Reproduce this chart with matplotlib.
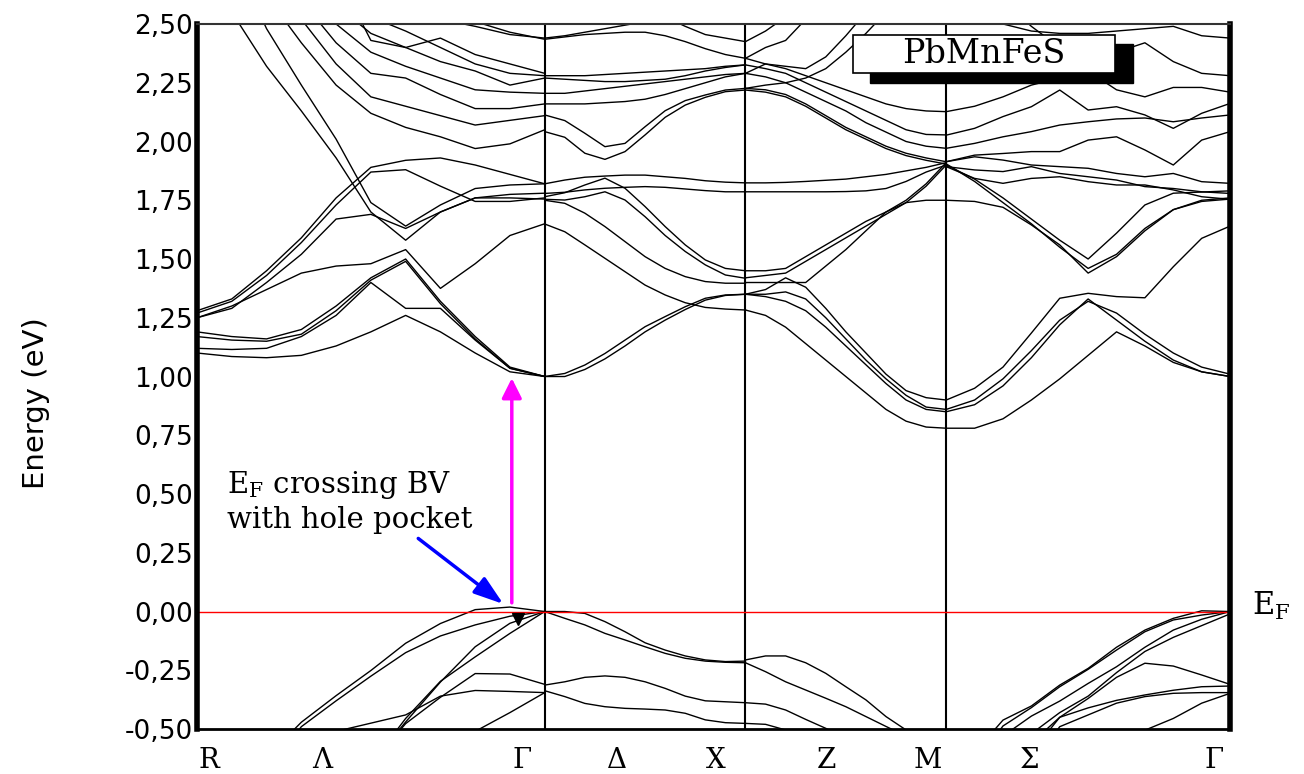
import numpy as np
import matplotlib.pyplot as plt
from matplotlib import font_manager
from matplotlib.patches import Rectangle

# path R - Gamma - X - M - Gamma, lengths in units of 2pi/a
k_R, k_G, k_X, k_M, k_G2 = 0.0, 0.866, 1.366, 1.866, 2.573
k_RG = np.linspace(k_R, k_G, 11)
k_GX = np.linspace(k_G, k_X, 11)
k_XM = np.linspace(k_X, k_M, 11)
k_MG = np.linspace(k_M, k_G2, 11)

# energies (eV) of the bands on each segment
cond_RG = [
    [1.10, 1.085, 1.08, 1.09, 1.13, 1.19, 1.26, 1.19, 1.10, 1.02, 1.00],
    [1.12, 1.115, 1.12, 1.17, 1.26, 1.40, 1.29, 1.29, 1.155, 1.035, 1.00],
    [1.19, 1.17, 1.16, 1.20, 1.30, 1.42, 1.50, 1.32, 1.17, 1.04, 1.00],
    [1.17, 1.155, 1.15, 1.18, 1.28, 1.41, 1.49, 1.31, 1.16, 1.035, 1.00],
    [1.25, 1.30, 1.37, 1.44, 1.47, 1.48, 1.54, 1.375, 1.48, 1.60, 1.65],
    [1.28, 1.33, 1.45, 1.59, 1.76, 1.89, 1.92, 1.93, 1.90, 1.86, 1.82],
    [1.27, 1.32, 1.43, 1.57, 1.73, 1.87, 1.88, 1.81, 1.745, 1.745, 1.76],
    [1.25, 1.29, 1.40, 1.52, 1.67, 1.69, 1.63, 1.70, 1.76, 1.775, 1.78],
    [2.90, 2.55, 2.32, 2.13, 1.93, 1.70, 1.58, 1.70, 1.76, 1.76, 1.755],
    [3.10, 2.80, 2.48, 2.24, 2.01, 1.74, 1.64, 1.73, 1.80, 1.815, 1.82],
    [3.50, 3.10, 2.62, 2.42, 2.24, 2.12, 2.06, 2.02, 1.97, 1.99, 2.05],
    [3.60, 3.20, 2.75, 2.52, 2.33, 2.19, 2.15, 2.11, 2.07, 2.09, 2.11],
    [3.70, 3.30, 2.85, 2.60, 2.42, 2.29, 2.27, 2.20, 2.14, 2.14, 2.16],
    [3.80, 3.40, 2.95, 2.70, 2.50, 2.38, 2.32, 2.27, 2.22, 2.21, 2.205],
    [3.90, 3.50, 3.05, 2.78, 2.58, 2.46, 2.40, 2.34, 2.30, 2.24, 2.27],
    [4.00, 3.60, 3.15, 2.86, 2.66, 2.53, 2.47, 2.40, 2.33, 2.29, 2.28],
    [4.10, 3.70, 3.20, 2.92, 2.72, 2.43, 2.40, 2.44, 2.37, 2.33, 2.29],
    [4.20, 3.80, 3.30, 3.00, 2.80, 2.66, 2.58, 2.52, 2.49, 2.455, 2.44],
    [4.30, 3.90, 3.40, 3.10, 2.90, 2.75, 2.65, 2.56, 2.51, 2.465, 2.435],
]
val_RG = [
    [-0.80, -0.72, -0.62, -0.471, -0.358, -0.251, -0.135, -0.051, 0.008, 0.019, 0.0],
    [-0.90, -0.80, -0.68, -0.49, -0.38, -0.275, -0.175, -0.104, -0.057, -0.02, 0.0],
    [-1.50, -1.30, -1.10, -0.95, -0.80, -0.65, -0.455, -0.297, -0.193, -0.093, 0.0],
    [-1.50, -1.30, -1.10, -0.95, -0.80, -0.65, -0.47, -0.30, -0.15, -0.05, 0.0],
    [-1.20, -1.10, -1.00, -0.90, -0.80, -0.65, -0.477, -0.365, -0.264, -0.266, -0.31],
    [-0.80, -0.70, -0.62, -0.56, -0.51, -0.475, -0.44, -0.36, -0.336, -0.34, -0.345],
    [-1.50, -1.40, -1.30, -1.20, -1.10, -0.90, -0.75, -0.62, -0.51, -0.43, -0.345],
]

cond_GX = [
    [1.00, 1.013, 1.049, 1.098, 1.155, 1.212, 1.255, 1.297, 1.333, 1.347, 1.35],
    [1.00, 1.00, 1.03, 1.075, 1.13, 1.19, 1.24, 1.285, 1.325, 1.345, 1.35],
    [1.649, 1.616, 1.56, 1.503, 1.446, 1.389, 1.347, 1.314, 1.294, 1.287, 1.283],
    [1.75, 1.737, 1.695, 1.638, 1.574, 1.51, 1.46, 1.425, 1.404, 1.397, 1.397],
    [1.754, 1.751, 1.765, 1.786, 1.751, 1.68, 1.60, 1.532, 1.475, 1.432, 1.418],
    [1.765, 1.782, 1.815, 1.844, 1.801, 1.723, 1.638, 1.56, 1.496, 1.46, 1.45],
    [1.779, 1.784, 1.794, 1.801, 1.805, 1.808, 1.805, 1.798, 1.791, 1.786, 1.786],
    [1.82, 1.836, 1.848, 1.853, 1.857, 1.857, 1.85, 1.843, 1.833, 1.827, 1.824],
    [2.113, 2.089, 2.035, 1.978, 1.992, 2.063, 2.131, 2.174, 2.198, 2.219, 2.226],
    [2.042, 2.018, 1.95, 1.924, 1.957, 2.028, 2.103, 2.155, 2.188, 2.212, 2.219],
    [2.16, 2.16, 2.16, 2.165, 2.17, 2.18, 2.20, 2.225, 2.25, 2.275, 2.29],
    [2.205, 2.205, 2.215, 2.225, 2.235, 2.245, 2.255, 2.265, 2.275, 2.285, 2.29],
    [2.27, 2.265, 2.26, 2.255, 2.255, 2.26, 2.265, 2.28, 2.30, 2.315, 2.326],
    [2.28, 2.28, 2.28, 2.285, 2.29, 2.295, 2.30, 2.305, 2.31, 2.32, 2.326],
    [2.435, 2.445, 2.455, 2.46, 2.465, 2.465, 2.45, 2.425, 2.395, 2.37, 2.354],
    [2.44, 2.45, 2.465, 2.48, 2.495, 2.51, 2.53, 2.56, 2.60, 2.65, 2.70],
    [3.00, 2.90, 2.80, 2.70, 2.62, 2.57, 2.53, 2.49, 2.455, 2.44, 2.425],
]
val_GX = [
    [0.0, 0.0, -0.008, -0.043, -0.086, -0.133, -0.164, -0.189, -0.206, -0.213, -0.211],
    [0.0, -0.029, -0.057, -0.093, -0.121, -0.150, -0.178, -0.199, -0.211, -0.216, -0.218],
    [-0.313, -0.299, -0.280, -0.274, -0.280, -0.299, -0.327, -0.360, -0.380, -0.384, -0.388],
    [-0.337, -0.362, -0.391, -0.405, -0.412, -0.415, -0.419, -0.433, -0.461, -0.473, -0.476],
]

cond_XM = [
    [2.354, 2.33, 2.31, 2.28, 2.25, 2.22, 2.19, 2.16, 2.14, 2.13, 2.127],
    [2.326, 2.31, 2.29, 2.25, 2.21, 2.17, 2.13, 2.09, 2.05, 2.03, 2.028],
    [2.29, 2.275, 2.25, 2.21, 2.17, 2.13, 2.08, 2.04, 2.00, 1.98, 1.971],
    [2.226, 2.22, 2.20, 2.16, 2.11, 2.06, 2.02, 1.98, 1.95, 1.93, 1.914],
    [2.219, 2.21, 2.19, 2.15, 2.10, 2.05, 2.01, 1.97, 1.94, 1.92, 1.904],
    [1.824, 1.824, 1.826, 1.83, 1.835, 1.84, 1.85, 1.86, 1.875, 1.89, 1.91],
    [1.786, 1.786, 1.786, 1.786, 1.786, 1.787, 1.79, 1.80, 1.83, 1.87, 1.90],
    [2.425, 2.47, 2.53, 2.60, 2.70, 2.80, 2.90, 3.00, 3.10, 3.20, 3.30],
    [2.354, 2.40, 2.43, 2.52, 2.62, 2.70, 2.80, 2.90, 3.00, 3.10, 3.20],
    [2.29, 2.33, 2.32, 2.31, 2.36, 2.45, 2.55, 2.65, 2.75, 2.85, 2.95],
    [2.226, 2.24, 2.25, 2.27, 2.31, 2.38, 2.46, 2.55, 2.65, 2.75, 2.85],
    [1.45, 1.45, 1.46, 1.51, 1.56, 1.61, 1.66, 1.70, 1.75, 1.82, 1.91],
    [1.42, 1.43, 1.44, 1.49, 1.54, 1.59, 1.64, 1.69, 1.74, 1.81, 1.90],
    [1.40, 1.40, 1.40, 1.40, 1.47, 1.54, 1.62, 1.70, 1.74, 1.75, 1.75],
    [1.35, 1.37, 1.42, 1.38, 1.29, 1.19, 1.10, 1.01, 0.94, 0.91, 0.90],
    [1.35, 1.35, 1.36, 1.33, 1.25, 1.16, 1.07, 0.99, 0.92, 0.87, 0.86],
    [1.35, 1.34, 1.32, 1.28, 1.21, 1.13, 1.05, 0.97, 0.90, 0.86, 0.85],
    [1.283, 1.26, 1.21, 1.14, 1.07, 1.00, 0.93, 0.86, 0.81, 0.785, 0.78],
]
val_XM = [
    [-0.206, -0.189, -0.189, -0.218, -0.263, -0.32, -0.376, -0.447, -0.504, -0.56, -0.62],
    [-0.218, -0.256, -0.299, -0.334, -0.369, -0.405, -0.447, -0.489, -0.53, -0.58, -0.63],
    [-0.388, -0.394, -0.419, -0.459, -0.497, -0.54, -0.58, -0.62, -0.66, -0.70, -0.74],
    [-0.476, -0.48, -0.504, -0.53, -0.56, -0.60, -0.64, -0.68, -0.72, -0.76, -0.80],
]

cond_MG = [
    [0.90, 0.95, 1.04, 1.185, 1.333, 1.354, 1.34, 1.335, 1.467, 1.588, 1.64],
    [0.85, 0.88, 0.96, 1.08, 1.22, 1.33, 1.24, 1.15, 1.07, 1.02, 1.00],
    [0.86, 0.90, 0.99, 1.11, 1.24, 1.32, 1.27, 1.18, 1.10, 1.04, 1.01],
    [0.78, 0.78, 0.82, 0.90, 0.99, 1.09, 1.19, 1.13, 1.06, 1.02, 1.00],
    [1.75, 1.745, 1.72, 1.645, 1.56, 1.44, 1.51, 1.62, 1.71, 1.745, 1.755],
    [1.90, 1.84, 1.76, 1.67, 1.58, 1.50, 1.61, 1.73, 1.78, 1.785, 1.79],
    [1.905, 1.83, 1.74, 1.65, 1.55, 1.46, 1.52, 1.63, 1.71, 1.75, 1.76],
    [2.027, 2.056, 2.106, 2.148, 2.219, 2.134, 2.148, 2.113, 2.056, 2.12, 2.162],
    [1.971, 1.992, 2.02, 2.042, 2.07, 2.084, 2.096, 2.10, 2.084, 2.10, 2.113],
    [1.914, 1.942, 1.949, 1.957, 1.957, 2.006, 2.02, 1.964, 1.90, 2.006, 2.042],
    [1.914, 1.935, 1.921, 1.90, 1.893, 1.886, 1.864, 1.85, 1.864, 1.829, 1.822],
    [1.893, 1.879, 1.872, 1.893, 1.864, 1.85, 1.836, 1.808, 1.80, 1.786, 1.779],
    [1.893, 1.843, 1.822, 1.843, 1.85, 1.829, 1.815, 1.815, 1.794, 1.765, 1.754],
    [2.127, 2.15, 2.19, 2.24, 2.27, 2.31, 2.38, 2.42, 2.34, 2.29, 2.28],
    [2.60, 2.55, 2.50, 2.47, 2.46, 2.46, 2.47, 2.48, 2.49, 2.45, 2.44],
    [3.00, 2.80, 2.60, 2.49, 2.40, 2.30, 2.22, 2.19, 2.23, 2.23, 2.21],
]
val_MG = [
    [-0.80, -0.60, -0.462, -0.402, -0.313, -0.242, -0.152, -0.079, -0.029, 0.003, 0.0],
    [-0.80, -0.65, -0.487, -0.409, -0.320, -0.246, -0.164, -0.086, -0.036, -0.015, 0.0],
    [-0.90, -0.70, -0.53, -0.445, -0.381, -0.306, -0.235, -0.152, -0.079, -0.033, 0.0],
    [-1.00, -0.80, -0.62, -0.52, -0.43, -0.36, -0.26, -0.17, -0.11, -0.06, -0.01],
    [-1.00, -0.85, -0.70, -0.56, -0.45, -0.37, -0.28, -0.22, -0.232, -0.27, -0.31],
    [-1.00, -0.90, -0.75, -0.60, -0.45, -0.41, -0.378, -0.355, -0.335, -0.32, -0.317],
    [-1.00, -0.90, -0.80, -0.65, -0.49, -0.44, -0.39, -0.362, -0.348, -0.345, -0.345],
    [-1.20, -1.10, -1.00, -0.90, -0.80, -0.70, -0.60, -0.505, -0.455, -0.39, -0.348],
]

sym_k = [k_G, k_X, k_M]
label_k = [0.030, 0.311, 0.809, 1.046, 1.293, 1.567, 1.821, 2.075, 2.533]
label_txt = ['R', 'Λ', 'Γ', 'Δ', 'X', 'Z', 'M', 'Σ', 'Γ']
e_ticks = np.arange(-0.5, 2.51, 0.25)

serif = 'DejaVu Serif'
try:
    font_manager.findfont('Liberation Sans Narrow', fallback_to_default=False)
    ylab_font, ylab_size = 'Liberation Sans Narrow', 27
except ValueError:
    ylab_font, ylab_size = 'DejaVu Sans', 21

fig = plt.figure(figsize=(13.04, 7.74), dpi=100)
ax = fig.add_axes([0.1511, 0.0581, 0.7922, 0.9109])

segments = [(k_RG, cond_RG + val_RG), (k_GX, cond_GX + val_GX),
            (k_XM, cond_XM + val_XM), (k_MG, cond_MG + val_MG)]
for k, bands in segments:
    for e in bands:
        ax.plot(k, e, color='black', lw=1.0)

for k in sym_k:
    ax.axvline(k, color='black', lw=1.5)
ax.axhline(0.0, color='red', lw=1.0)

ax.set_xlim(k_R, k_G2)
ax.set_ylim(-0.5, 2.5)

ax.set_yticks(e_ticks)
ax.set_yticklabels([f'{v:.2f}'.replace('.', ',') for v in e_ticks],
                   fontsize=19, family='DejaVu Sans')
ax.set_xticks(label_k)
ax.set_xticklabels(label_txt, fontsize=20, family=serif)
ax.tick_params(axis='y', length=0, pad=3)
ax.tick_params(axis='x', length=0, pad=13)

ax.spines['left'].set_linewidth(4)
ax.spines['right'].set_linewidth(4)
ax.spines['bottom'].set_linewidth(2)
ax.spines['top'].set_linewidth(1.5)
ax.spines['top'].set_color('#333333')

fig.text(0.0276, 0.479, 'Energy (eV)', rotation=90, ha='center', va='center',
         fontsize=ylab_size, family=ylab_font)

# gap arrow and hole pocket marker
ax.annotate('', xy=(0.784, 0.993), xytext=(0.784, 0.037),
            arrowprops=dict(arrowstyle='-|>,head_length=1.2,head_width=0.6',
                            color='magenta', lw=2.5, shrinkA=0, shrinkB=0))
ax.annotate('', xy=(0.763, 0.032), xytext=(0.551, 0.311),
            arrowprops=dict(arrowstyle='-|>,head_length=1.8,head_width=0.6',
                            color='blue', lw=2.5, shrinkA=0, shrinkB=0))
ax.plot([0.80], [-0.03], marker='v', color='black', ms=8)

ax.text(0.075, 0.504, r'E$_{\mathregular{F}}$ crossing BV', fontsize=21, family=serif)
ax.text(0.075, 0.355, 'with hole pocket', fontsize=21, family=serif)

# compound name box with drop shadow
ax.add_patch(Rectangle((0.6515, 0.9163), 0.2545, 0.0553, transform=ax.transAxes,
                       facecolor='black', edgecolor='black', zorder=5, clip_on=False))
ax.add_patch(Rectangle((0.635, 0.9305), 0.2537, 0.0539, transform=ax.transAxes,
                       facecolor='white', edgecolor='black', lw=1.2, zorder=6, clip_on=False))
ax.text(0.7618, 0.9575, 'PbMnFeS', transform=ax.transAxes, ha='center', va='center',
        fontsize=24, family=serif, zorder=7)

ax.text(1.021, -0.015, r'E$_{\mathregular{F}}$', transform=ax.get_yaxis_transform(),
        ha='left', va='baseline', fontsize=22, family=serif, clip_on=False)

fig.savefig('out.png', dpi=100)
